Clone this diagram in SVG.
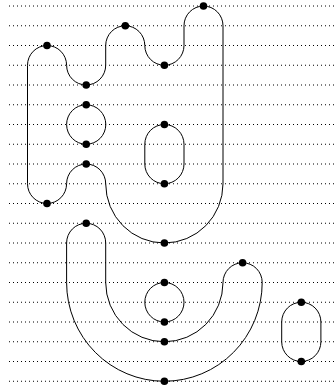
<svg xmlns="http://www.w3.org/2000/svg" width="334" height="387" viewBox="0 0 334 387">
<style>
.row{stroke:#000;stroke-width:1;stroke-dasharray:1 3;fill:none}
.wire{stroke:#000;stroke-width:1;fill:none}
.dot{fill:#000}
</style>
<rect width="334" height="387" fill="#fff"/>
<g id="rows">
<path class="row" d="M9 6H334M9 25.75H334M9 45.5H334M9 65.25H334M9 85H334M9 104.75H334M9 124.5H334M9 144.25H334M9 164H334M9 183.75H334M9 203.5H334M9 223.25H334M9 243H334M9 262.75H334M9 282.5H334M9 302.25H334M9 322H334M9 341.75H334M9 361.5H334M9 381.25H334"/>
</g>
<g id="connectors">
<path class="wire" d="M47 45.5A19.6 19.75 0 0 1 66.6 65.25A19.6 19.75 0 0 0 86.2 85A19.6 19.75 0 0 0 105.7 65.25V45.5A19.6 19.75 0 0 1 125.3 25.75A19.6 19.75 0 0 1 144.8 45.5A19.6 19.75 0 0 0 164.4 65.25A19.6 19.75 0 0 0 184 45.5V25.75A19.6 19.75 0 0 1 203.5 6A19.6 19.75 0 0 1 223 25.75V183.75A58.6 59.25 0 0 1 164.4 243A58.6 59.25 0 0 1 105.7 183.75A19.6 19.75 0 0 0 86.2 164A19.6 19.75 0 0 0 66.6 183.75A19.6 19.75 0 0 1 47 203.5A19.6 19.75 0 0 1 27.5 183.75V65.25A19.6 19.75 0 0 1 47 45.5Z"/>
<path class="wire" d="M86.2 104.75A19.6 19.75 0 0 1 86.2 144.25A19.6 19.75 0 0 1 86.2 104.75Z"/>
<path class="wire" d="M164.4 124.5A19.6 19.75 0 0 1 184 144.25V164A19.6 19.75 0 0 1 164.4 183.75A19.6 19.75 0 0 1 144.8 164V144.25A19.6 19.75 0 0 1 164.4 124.5Z"/>
<path class="wire" d="M86.2 223.25A19.6 19.75 0 0 1 105.7 243V282.5A58.6 59.25 0 0 0 164.4 341.75A58.6 59.25 0 0 0 223 282.5A19.6 19.75 0 0 1 242.6 262.75A19.6 19.75 0 0 1 262.2 282.5A97.8 98.75 0 0 1 164.4 381.25A97.8 98.75 0 0 1 66.6 282.5V243A19.6 19.75 0 0 1 86.2 223.25Z"/>
<path class="wire" d="M164.4 282.5A19.6 19.75 0 0 1 164.4 322A19.6 19.75 0 0 1 164.4 282.5Z"/>
<path class="wire" d="M301.3 302.25A19.6 19.75 0 0 1 320.9 322V341.75A19.6 19.75 0 0 1 301.3 361.5A19.6 19.75 0 0 1 281.7 341.75V322A19.6 19.75 0 0 1 301.3 302.25Z"/>
</g>
<g id="n1"><circle class="dot" cx="47" cy="45.5" r="3.8"/></g>
<g id="n2"><circle class="dot" cx="86.2" cy="85" r="3.8"/></g>
<g id="n3"><circle class="dot" cx="125.3" cy="25.75" r="3.8"/></g>
<g id="n4"><circle class="dot" cx="164.4" cy="65.25" r="3.8"/></g>
<g id="n5"><circle class="dot" cx="203.5" cy="6" r="3.8"/></g>
<g id="n6"><circle class="dot" cx="86.2" cy="104.75" r="3.8"/></g>
<g id="n7"><circle class="dot" cx="86.2" cy="144.25" r="3.8"/></g>
<g id="n8"><circle class="dot" cx="86.2" cy="164" r="3.8"/></g>
<g id="n9"><circle class="dot" cx="47" cy="203.5" r="3.8"/></g>
<g id="n10"><circle class="dot" cx="164.4" cy="124.5" r="3.8"/></g>
<g id="n11"><circle class="dot" cx="164.4" cy="183.75" r="3.8"/></g>
<g id="n12"><circle class="dot" cx="164.4" cy="243" r="3.8"/></g>
<g id="n13"><circle class="dot" cx="86.2" cy="223.25" r="3.8"/></g>
<g id="n14"><circle class="dot" cx="242.6" cy="262.75" r="3.8"/></g>
<g id="n15"><circle class="dot" cx="164.4" cy="282.5" r="3.8"/></g>
<g id="n16"><circle class="dot" cx="164.4" cy="322" r="3.8"/></g>
<g id="n17"><circle class="dot" cx="164.4" cy="341.75" r="3.8"/></g>
<g id="n18"><circle class="dot" cx="164.4" cy="381.25" r="3.8"/></g>
<g id="n19"><circle class="dot" cx="301.3" cy="302.25" r="3.8"/></g>
<g id="n20"><circle class="dot" cx="301.3" cy="361.5" r="3.8"/></g>
</svg>
